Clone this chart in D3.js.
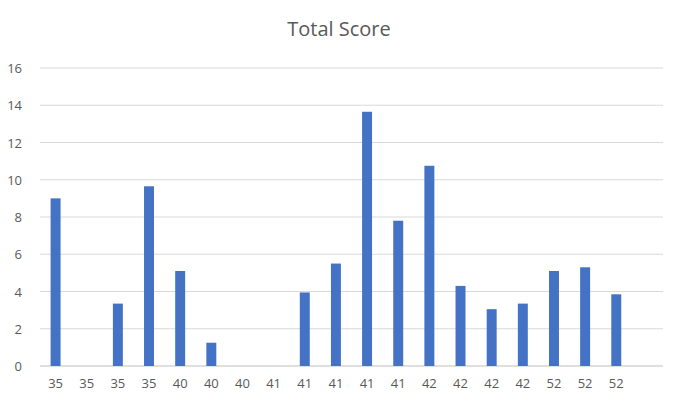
<!DOCTYPE html>
<html><head><meta charset="utf-8">
<script src="https://cdn.jsdelivr.net/npm/d3@7"></script>
<style>body{margin:0;background:#fff}</style>
</head><body>
<svg id="c" width="678" height="403"></svg>
<script>
const categories = ["35","35","35","35","40","40","40","41","41","41","41","41","42","42","42","42","52","52","52",""];
const values = [9,0,3.35,9.65,5.1,1.25,0,0,3.95,5.5,13.65,7.8,10.75,4.3,3.05,3.35,5.1,5.3,3.85,0];
const yTicks = [0,2,4,6,8,10,12,14,16];

const svg = d3.select("#c");
const x = d3.scaleBand().domain(d3.range(categories.length)).range([40,663]).paddingInner(0.68).paddingOuter(0.34);
const y = d3.scaleLinear().domain([0,16]).range([366,68]);

svg.append("g").selectAll("line").data(yTicks).join("line")
  .attr("x1",40).attr("x2",663).attr("y1",d=>y(d)).attr("y2",d=>y(d))
  .attr("stroke",d=>d===0?"#bfbfbf":"#d9d9d9").attr("stroke-width",1);

svg.append("g").selectAll("text").data(yTicks).join("text")
  .attr("x",22).attr("y",d=>y(d)+5).attr("text-anchor","end")
  .attr("font-family","Open Sans, sans-serif").attr("font-size",13).attr("fill","#595959").text(d=>d);

svg.append("g").selectAll("rect").data(values).join("rect")
  .attr("x",(d,i)=>x(i)).attr("width",x.bandwidth())
  .attr("y",d=>y(d)).attr("height",d=>y(0)-y(d)).attr("fill","#4472c4");

const step = x.step();
svg.append("g").selectAll("text").data(categories).join("text")
  .attr("x",(d,i)=>x(i)+x.bandwidth()/2).attr("y",388).attr("text-anchor","middle")
  .attr("font-family","Open Sans, sans-serif").attr("font-size",13).attr("fill","#595959").text(d=>d);

svg.append("text").attr("x",339).attr("y",36).attr("text-anchor","middle")
  .attr("font-family","Open Sans, sans-serif").attr("font-size",20).attr("fill","#595959").text("Total Score");
</script>
</body></html>
